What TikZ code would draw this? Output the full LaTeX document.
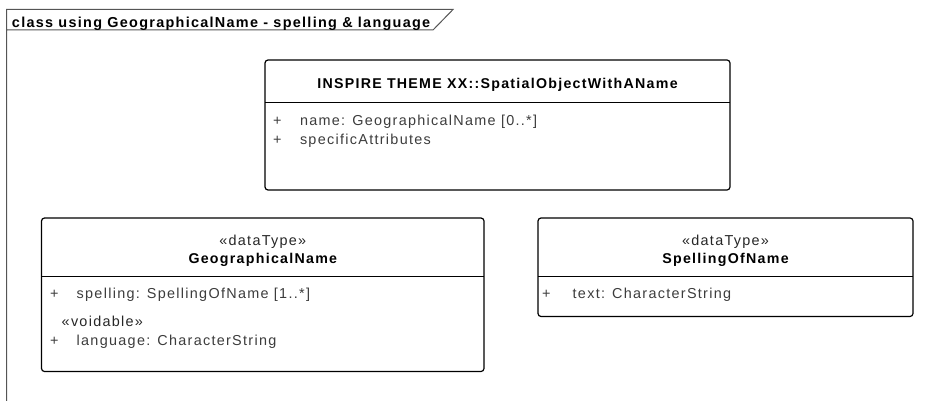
\documentclass[tikz,border=0pt]{standalone}
\usepackage{fontspec}
\setmainfont{Liberation Sans}[LetterSpace=9]
\definecolor{attr}{RGB}{60,60,60}
\definecolor{framecol}{RGB}{85,85,85}
\begin{document}
\begin{tikzpicture}[x=1pt,y=-1pt,
  every node/.style={inner sep=0pt,outer sep=0pt,font=\fontsize{14.4}{16}\selectfont},
  umlbox/.style={draw=black,line width=1.2pt,rounded corners=3pt,anchor=north west},
  sepline/.style={draw=black,line width=1.2pt},
  attrtxt/.style={anchor=base west,text=attr},
  plus/.style={anchor=base west,text=attr},
  stereo/.style={anchor=base,text=black!85},
  cname/.style={anchor=base,text=black,font=\fontsize{14.2}{16}\selectfont\bfseries},
  framel/.style={draw=framecol,line width=1pt}]
\useasboundingbox (0,0) rectangle (939,401);
% frame
\coordinate (f1) at (6.5,401);
\coordinate (f2) at (6.5,9.5);
\coordinate (f3) at (453,9.5);
\coordinate (f4) at (433,30);
\coordinate (f5) at (6.5,30);
\draw[framel] (f1) -- (f2) -- (f3) -- (f4) -- (f5);
\node[anchor=base west,font=\fontsize{14.4}{16}\selectfont\bfseries] (ftitle) at (12,28) {class using GeographicalName - spelling \& language};
% Box A
\node[umlbox,minimum width=465pt,minimum height=130pt] (A) at (265,60) {};
\draw[sepline] (265,102.5) -- (730,102.5);
\node[cname] (Aname) at (497.5,89) {INSPIRE THEME XX::SpatialObjectWithAName};
\node[plus] (Ap1) at (273,125) {+};
\node[attrtxt] (Aa1) at (300,125) {name: GeographicalName [0..*]};
\node[plus] (Ap2) at (273,144.5) {+};
\node[attrtxt] (Aa2) at (300,144.5) {specificAttributes};
% Box B
\node[umlbox,minimum width=442.5pt,minimum height=153.5pt] (B) at (41.5,218) {};
\draw[sepline] (41.5,276.5) -- (484,276.5);
\node[stereo] (Bst) at (262.8,245) {«dataType»};
\node[cname] (Bname) at (262.8,263.5) {GeographicalName};
\node[plus] (Bp1) at (50,298.5) {+};
\node[attrtxt] (Ba1) at (76.7,298.5) {spelling: SpellingOfName [1..*]};
\node[anchor=base west,text=black!85] (Bvoid) at (61.7,326) {«voidable»};
\node[plus] (Bp2) at (50,345) {+};
\node[attrtxt] (Ba2) at (76.7,345) {language: CharacterString};
% Box C
\node[umlbox,minimum width=375pt,minimum height=98.5pt] (C) at (538,218) {};
\draw[sepline] (538,276.5) -- (913,276.5);
\node[stereo] (Cst) at (725.5,245) {«dataType»};
\node[cname] (Cname) at (725.5,263.5) {SpellingOfName};
\node[plus] (Cp1) at (542,298.5) {+};
\node[attrtxt] (Ca1) at (572.7,298.5) {text: CharacterString};
\end{tikzpicture}
\end{document}
